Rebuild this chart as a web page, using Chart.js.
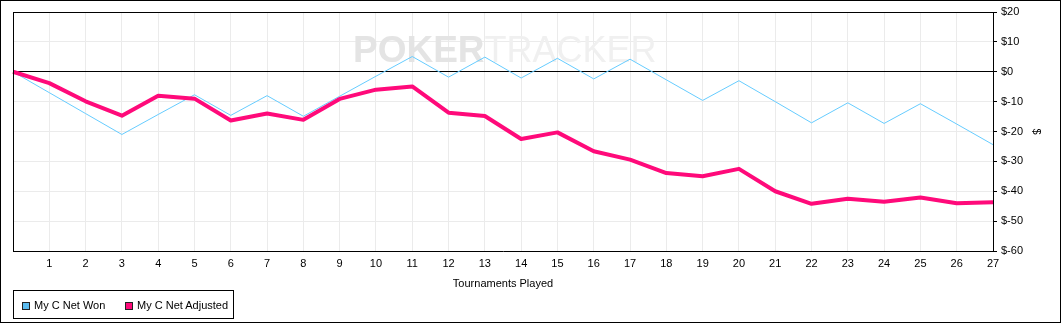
<!DOCTYPE html>
<html>
<head>
<meta charset="utf-8">
<script src="https://cdn.jsdelivr.net/npm/chart.js@4.4.1/dist/chart.umd.min.js"></script>
<style>
    html, body { margin: 0; padding: 0; background: #fff; }
    #wrap { position: relative; width: 1061px; height: 323px; font-family: 'Liberation Sans', Arial, sans-serif; }
    #legend { position: absolute; left: 13px; top: 290px; width: 219px; height: 27px; border: 1px solid #000; font-size: 11px; }
    .item { position: absolute; top: 8px; line-height: 13px; white-space: nowrap; }
    .sw { display: inline-block; width: 6px; height: 6px; border: 1px solid #222; margin-right: 4px; vertical-align: -1px; }
</style>
</head>
<body>
<div id="wrap">
    <canvas id="c" width="1061" height="323"></canvas>
    <div id="legend">
        <div class="item" style="left:8px"><span class="sw" style="background:#5bbcf0"></span>My C Net Won</div>
        <div class="item" style="left:111px"><span class="sw" style="background:#ff0a7a"></span>My C Net Adjusted</div>
    </div>
</div>
<script>
const tournaments = [0, 1, 2, 3, 4, 5, 6, 7, 8, 9, 10, 11, 12, 13, 14, 15, 16, 17, 18, 19, 20, 21, 22, 23, 24, 25, 26, 27];
const netWon = [0, -7, -14, -21, -14.3, -7.7, -14.6, -8, -14.9, -8.2, -1.5, 5.1, -1.8, 4.9, -2.1, 4.5, -2.4, 4.2, -2.7, -9.6, -3, -10, -17.1, -10.4, -17.3, -10.7, -17.5, -24.4];
const netAdjusted = [0, -3.8, -9.9, -14.7, -8, -9, -16.3, -14, -16.1, -9.1, -6, -4.9, -13.7, -14.8, -22.5, -20.3, -26.6, -29.4, -33.9, -35, -32.5, -40, -44.2, -42.5, -43.5, -42.1, -44, -43.7];
const yTicks = [20, 10, 0, -10, -20, -30, -40, -50, -60];

const font = { family: "'Liberation Sans', Arial, sans-serif", size: 11 };

// frame, watermark and plot border
const decor = {
    id: 'decor',
    beforeDatasetsDraw(chart) {
        const ctx = chart.ctx;
        ctx.save();
        ctx.textBaseline = 'alphabetic';
        ctx.font = "bold 37px 'Liberation Sans', Arial, sans-serif";
        ctx.fillStyle = '#e4e4e4';
        ctx.fillText('POKER', 353, 62);
        const w = ctx.measureText('POKER').width;
        ctx.font = "36px 'Liberation Sans', Arial, sans-serif";
        ctx.fillStyle = '#f0f0f0';
        ctx.fillText('TRACKER', 353 + w, 62);
        ctx.restore();
    },
    afterDraw(chart) {
        const ctx = chart.ctx;
        const a = chart.chartArea;
        ctx.save();
        ctx.strokeStyle = '#000';
        ctx.lineWidth = 1;
        ctx.strokeRect(0.5, 0.5, 1060, 322);
        ctx.beginPath();
        ctx.moveTo(Math.round(a.left) + 0.5, Math.round(a.bottom));
        ctx.lineTo(Math.round(a.left) + 0.5, Math.round(a.top) + 0.5);
        ctx.lineTo(Math.round(a.right), Math.round(a.top) + 0.5);
        ctx.stroke();
        ctx.restore();
    }
};

new Chart(document.getElementById('c'), {
    type: 'line',
    data: {
        labels: tournaments,
        datasets: [
            { label: 'My C Net Won', data: netWon, borderColor: '#66ccff', borderWidth: 1, pointRadius: 0, tension: 0, order: 1 },
            { label: 'My C Net Adjusted', data: netAdjusted, borderColor: '#ff0a7a', borderWidth: 4, pointRadius: 0, tension: 0, order: 0, borderJoinStyle: 'round' }
        ]
    },
    options: {
        responsive: false,
        animation: false,
        layout: { padding: { left: 13, top: 12, right: 0, bottom: 32 } },
        plugins: { legend: { display: false }, tooltip: { enabled: false } },
        scales: {
            x: {
                type: 'category',
                offset: false,
                afterFit: s => { s.height = 40; },
                grid: { color: '#ebebeb', drawTicks: false },
                border: { color: '#000' },
                ticks: { color: '#000', font, padding: 6, maxRotation: 0, autoSkip: false, callback: (v, i) => i === 0 ? '' : tournaments[i] },
                title: { display: true, text: 'Tournaments Played', color: '#000', font, padding: { top: 3, bottom: 0 } }
            },
            y: {
                position: 'right',
                min: -60,
                max: 20,
                afterFit: s => { s.width = 68; },
                afterBuildTicks: s => { s.ticks = yTicks.map(v => ({ value: v })); },
                grid: { color: c => (c.tick && (c.tick.value === 0 || c.tick.value === 20)) ? '#000' : '#ebebeb', tickColor: '#000', tickLength: 4 },
                border: { color: '#000' },
                ticks: { color: '#000', font, padding: 4, callback: v => '$' + v },
                title: { display: true, text: '$', color: '#000', font, padding: { top: 18, bottom: 0 } }
            }
        }
    },
    plugins: [decor]
});
</script>
</body>
</html>
